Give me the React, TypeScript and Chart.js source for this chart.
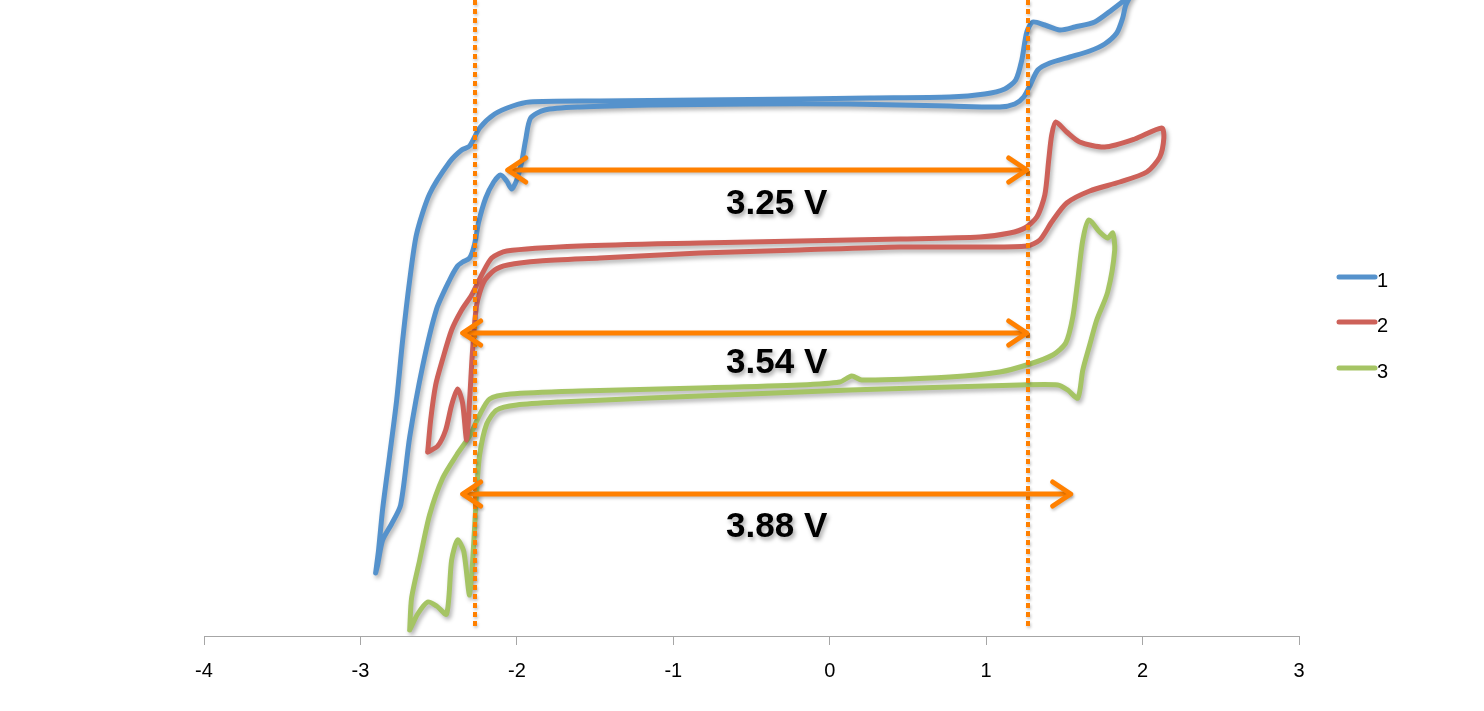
import { useEffect, useRef } from "react";
import { Chart, registerables } from "chart.js";

Chart.register(...registerables);

// Potential (V) and current (arbitrary units) for each cyclic voltammogram
const seriesNames = ["1", "2", "3"];
const seriesColors = ["#5592CC", "#CD6159", "#A5C464"];

const potential1 = [
  -2.903, -2.884, -2.858, -2.813, -2.769, -2.73, -2.685, -2.641, -2.558, -2.43, -2.353, -2.302, -2.238, -2.142,
  -2.027, -1.918, -1.471, -0.831, -0.192, 0.256, 0.767, 0.991, 1.119, 1.189, 1.228, 1.26, 1.298, 1.375, 1.471,
  1.567, 1.694, 1.803, 1.899, 1.95, 1.893, 1.873, 1.835, 1.758, 1.662, 1.535, 1.407, 1.33, 1.285, 1.24, 1.183,
  1.087, 0.767, 0.128, -0.512, -1.151, -1.598, -1.822, -1.912, -1.944, -1.969, -2.001, -2.033, -2.065, -2.104,
  -2.148, -2.199, -2.244, -2.27, -2.302, -2.347, -2.379, -2.43, -2.513, -2.602, -2.685, -2.743, -2.801, -2.858,
  -2.89, -2.903,
];
const current1 = [
  6.3, 8.6, 12.7, 18.1, 23.5, 29.6, 35.6, 40.2, 44.2, 47.4, 48.6, 49.0, 50.8, 52.2,
  53.0, 53.4, 53.5, 53.6, 53.7, 53.8, 53.9, 54.2, 54.7, 55.6, 57.6, 60.4, 61.4, 61.1, 60.6,
  60.9, 61.4, 62.6, 63.8, 64.8, 63.1, 61.8, 60.3, 59.2, 58.5, 57.9, 57.3, 56.6, 55.2, 53.9, 53.2,
  52.9, 53.0, 53.2, 53.2, 53.1, 52.9, 52.6, 51.8, 49.6, 47.4, 45.6, 44.7, 45.5, 46.1,
  45.4, 43.8, 41.4, 39.2, 37.8, 37.4, 37.0, 35.6, 32.7, 27.0, 19.9, 13.1, 11.2, 9.6,
  7.1, 6.3,
];

const potential2 = [
  -2.57, -2.551, -2.519, -2.474, -2.417, -2.353, -2.289, -2.225, -2.161, -2.065, -1.598, -0.831, -0.192, 0.448,
  0.959, 1.151, 1.247, 1.324, 1.375, 1.4, 1.419, 1.445, 1.515, 1.598, 1.758, 1.95, 2.123, 2.136, 2.11, 2.027,
  1.854, 1.662, 1.515, 1.419, 1.343, 1.26, 0.959, 0.448, -0.192, -0.831, -1.471, -1.854, -2.059, -2.142, -2.212,
  -2.257, -2.283, -2.302, -2.321, -2.347, -2.379, -2.417, -2.455, -2.506, -2.57,
];
const current2 = [
  18.4, 21.6, 25.1, 27.7, 30.6, 32.6, 34.1, 36.1, 37.8, 38.5, 39.0, 39.3, 39.5, 39.7,
  39.9, 40.3, 40.8, 41.9, 44.1, 47.6, 50.1, 51.4, 50.4, 49.4, 48.9, 49.7, 50.8, 49.8, 47.9, 46.4,
  45.4, 44.5, 43.3, 41.4, 39.6, 39.0, 38.9, 38.9, 38.6, 38.3, 37.8, 37.5, 37.1, 36.6, 35.4,
  33.1, 28.6, 23.6, 19.6, 23.3, 24.7, 23.1, 20.6, 19.0, 18.4,
];

const potential3 = [
  -2.685, -2.673, -2.621, -2.558, -2.474, -2.385, -2.302, -2.238, -2.174, -2.04, -1.598, -0.831, -0.192, 0.064,
  0.141, 0.205, 0.767, 1.087, 1.279, 1.426, 1.509, 1.554, 1.586, 1.618, 1.656, 1.726, 1.777, 1.809, 1.822, 1.777,
  1.707, 1.662, 1.618, 1.586, 1.522, 1.458, 1.215, 0.767, 0.128, -0.512, -1.151, -1.726, -2.001, -2.129, -2.193,
  -2.238, -2.257, -2.276, -2.302, -2.34, -2.379, -2.417, -2.449, -2.513, -2.57, -2.634, -2.685,
];
const current3 = [
  0.6, 3.8, 7.6, 12.1, 15.8, 18.1, 20.0, 22.1, 23.7, 24.2, 24.5, 24.8, 25.1, 25.4,
  26.0, 25.6, 25.9, 26.4, 27.2, 28.1, 29.3, 31.9, 35.6, 39.6, 41.6, 40.4, 39.8, 40.3, 38.6, 34.4,
  31.6, 29.1, 26.6, 23.8, 24.6, 25.1, 25.1, 24.9, 24.6, 24.2, 23.8, 23.4, 23.1, 22.6, 21.2,
  18.1, 14.5, 9.2, 4.1, 8.5, 9.6, 7.6, 2.2, 3.0, 3.4, 2.2, 0.6,
];

const xTickMin = -4;
const xTickMax = 3;
const xTickStep = 1;

// Electrochemical window annotations
const windowEdges = [-2.27, 1.27];
const arrowLevels = [46.6, 30.3, 14.2];
const arrowStarts = [-2.065, -2.353, -2.353];
const arrowEnds = [1.266, 1.266, 1.547];
const windowLabels = ["3.25 V", "3.54 V", "3.88 V"];
const labelLevels = [43.2, 27.3, 10.9];
const labelPotential = -0.339;

const titleText = "ELECTROCHEMISTRY - MBOH";

const ORANGE = "#FF8000";

function toPoints(xs: number[], ys: number[]) {
  return xs.map((x, i) => ({ x, y: ys[i] }));
}

function setShadow(ctx: CanvasRenderingContext2D) {
  ctx.shadowColor = "rgba(0,0,0,0.30)";
  ctx.shadowBlur = 4;
  ctx.shadowOffsetX = 2;
  ctx.shadowOffsetY = 3;
}

const overlayPlugin = {
  id: "overlay",
  beforeDraw(chart: any) {
    const ctx = chart.ctx as CanvasRenderingContext2D;
    ctx.save();
    ctx.font = 'bold 30px "Liberation Sans", Arial, sans-serif';
    ctx.fillStyle = "#ececec";
    ctx.textAlign = "left";
    ctx.textBaseline = "bottom";
    ctx.fillText(titleText, 55, 5);
    ctx.restore();
  },
  beforeDatasetsDraw(chart: any) {
    const ctx = chart.ctx as CanvasRenderingContext2D;
    ctx.save();
    setShadow(ctx);
  },
  afterDatasetsDraw(chart: any) {
    const ctx = chart.ctx as CanvasRenderingContext2D;
    ctx.restore();
    const xs = chart.scales.x;
    const ys = chart.scales.y;
    const area = chart.chartArea;

    ctx.save();
    ctx.shadowBlur = 3;
    ctx.shadowOffsetX = 1;
    ctx.shadowOffsetY = 2;
    ctx.shadowColor = "rgba(0,0,0,0.22)";

    // dotted vertical lines
    ctx.strokeStyle = ORANGE;
    ctx.lineWidth = 4;
    ctx.setLineDash([5, 4]);
    ctx.lineCap = "butt";
    for (const e of windowEdges) {
      const px = Math.round(xs.getPixelForValue(e));
      ctx.beginPath();
      ctx.moveTo(px, area.top);
      ctx.lineTo(px, area.bottom - 6);
      ctx.stroke();
    }
    ctx.setLineDash([]);

    // double arrows
    ctx.lineWidth = 5;
    ctx.lineCap = "round";
    ctx.lineJoin = "round";
    for (let i = 0; i < arrowLevels.length; i++) {
      const y = ys.getPixelForValue(arrowLevels[i]);
      const x1 = xs.getPixelForValue(arrowStarts[i]);
      const x2 = xs.getPixelForValue(arrowEnds[i]);
      ctx.beginPath();
      ctx.moveTo(x1 + 2, y);
      ctx.lineTo(x2 - 2, y);
      ctx.stroke();
      ctx.beginPath();
      ctx.moveTo(x1 + 19, y - 12);
      ctx.lineTo(x1 + 1, y);
      ctx.lineTo(x1 + 19, y + 12);
      ctx.stroke();
      ctx.beginPath();
      ctx.moveTo(x2 - 19, y - 12);
      ctx.lineTo(x2 - 1, y);
      ctx.lineTo(x2 - 19, y + 12);
      ctx.stroke();
    }

    // labels
    ctx.shadowColor = "rgba(0,0,0,0.35)";
    ctx.shadowBlur = 4;
    ctx.shadowOffsetX = 2;
    ctx.shadowOffsetY = 3;
    ctx.fillStyle = "#000";
    ctx.font = 'bold 35px "Liberation Sans", Arial, sans-serif';
    ctx.textAlign = "center";
    ctx.textBaseline = "middle";
    for (let i = 0; i < windowLabels.length; i++) {
      ctx.fillText(windowLabels[i], xs.getPixelForValue(labelPotential), ys.getPixelForValue(labelLevels[i]));
    }
    ctx.restore();

    // legend
    ctx.save();
    const lx = area.right + 38;
    const ly = [277, 322, 368];
    ctx.lineWidth = 5;
    ctx.lineCap = "round";
    ctx.font = '20px "Liberation Sans", Arial, sans-serif';
    ctx.textAlign = "left";
    ctx.textBaseline = "middle";
    for (let i = 0; i < seriesNames.length; i++) {
      ctx.strokeStyle = seriesColors[i];
      ctx.beginPath();
      ctx.moveTo(lx + 2, ly[i]);
      ctx.lineTo(lx + 38, ly[i]);
      ctx.stroke();
      ctx.fillStyle = "#000";
      ctx.fillText(seriesNames[i], lx + 40, ly[i] + 4);
    }
    ctx.restore();
  },
};

export default function App() {
  const canvasRef = useRef<HTMLCanvasElement | null>(null);

  useEffect(() => {
    document.body.style.margin = "0";
    const canvas = canvasRef.current;
    if (!canvas) return;
    const chart = new Chart(canvas, {
      type: "scatter",
      data: {
        datasets: [
          { label: seriesNames[0], data: toPoints(potential1, current1), borderColor: seriesColors[0] },
          { label: seriesNames[1], data: toPoints(potential2, current2), borderColor: seriesColors[1] },
          { label: seriesNames[2], data: toPoints(potential3, current3), borderColor: seriesColors[2] },
        ].map((d) => ({
          ...d,
          showLine: true,
          borderWidth: 5,
          pointRadius: 0,
          pointHoverRadius: 0,
          tension: 0.25,
          fill: false,
          borderCapStyle: "round" as const,
          borderJoinStyle: "round" as const,
        })),
      },
      options: {
        responsive: false,
        animation: false,
        devicePixelRatio: 1,
        layout: { padding: { left: 204, right: 185, top: 0, bottom: 0 } },
        plugins: {
          legend: { display: false },
          tooltip: { enabled: false },
        },
        scales: {
          x: {
            type: "linear",
            min: xTickMin,
            max: xTickMax,
            ticks: {
              stepSize: xTickStep,
              color: "#000",
              padding: 14,
              font: { family: '"Liberation Sans", Arial, sans-serif', size: 20 },
            },
            grid: {
              display: true,
              drawOnChartArea: false,
              drawTicks: true,
              tickLength: 9,
              color: "#a6a6a6",
            },
            border: { display: true, color: "#a6a6a6", width: 1 },
            afterFit: (scale: any) => {
              scale.height = 75;
            },
          },
          y: {
            display: false,
            min: 0,
            max: 63.6,
          },
        },
      },
      plugins: [overlayPlugin],
    });
    return () => chart.destroy();
  }, []);

  return (
    <div style={{ position: "absolute", left: 0, top: 0, width: 1484, height: 711, background: "#fff" }}>
      <canvas ref={canvasRef} width={1484} height={711} style={{ width: 1484, height: 711, display: "block" }} />
    </div>
  );
}
